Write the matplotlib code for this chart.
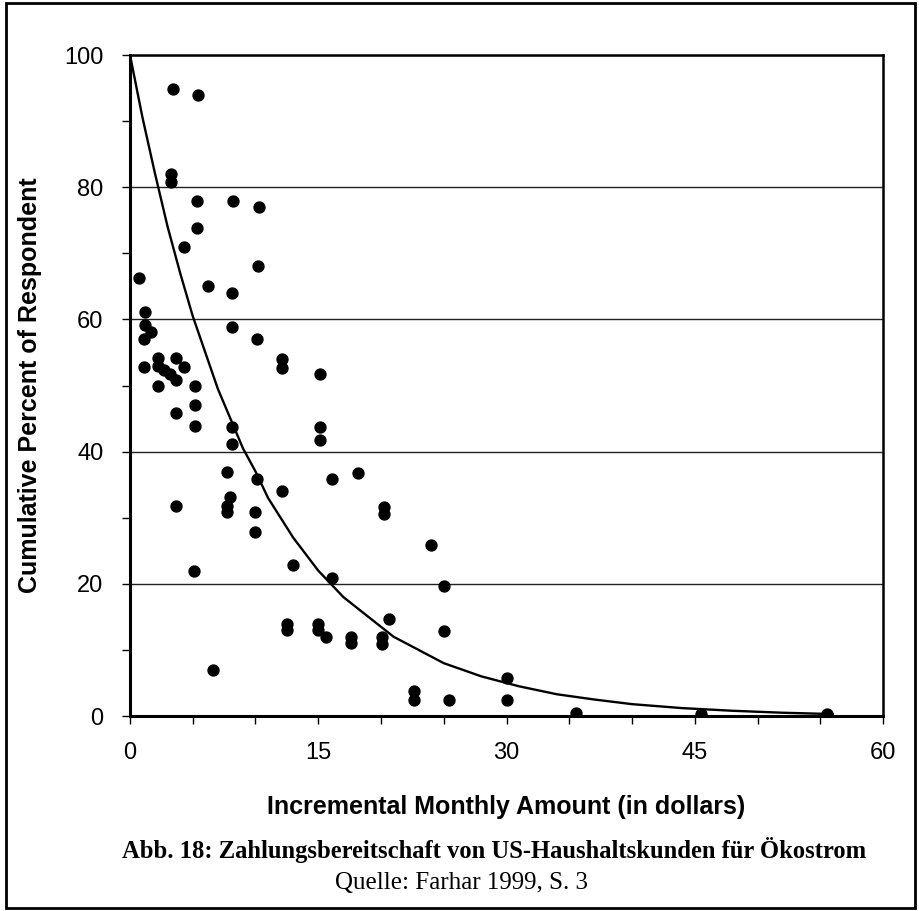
import matplotlib.pyplot as plt
from matplotlib.patches import Rectangle
from matplotlib.ticker import MultipleLocator

# survey responses (dollars per month, cumulative percent)
amount = [3.4, 5.4, 3.3, 3.3, 5.3, 8.2, 10.3, 5.3, 4.3, 10.2,
          0.7, 6.2, 8.1, 1.2, 1.2, 1.7, 1.1, 8.1, 10.1, 12.1,
          12.1, 15.1, 1.1, 2.2, 2.2, 2.7, 3.2, 3.7, 4.3, 3.7,
          2.2, 5.2, 5.2, 3.7, 5.2, 8.1, 8.1, 15.1, 15.1, 7.7,
          10.1, 16.1, 18.2, 12.1, 3.7, 8.0, 7.7, 7.7, 10.0, 10.0,
          5.1, 13.0, 16.1, 12.5, 12.5, 15.0, 15.0, 15.6, 17.6, 17.6,
          6.6, 20.2, 20.2, 24.0, 25.0, 20.6, 20.1, 20.1, 25.0, 22.6,
          22.6, 25.4, 30.0, 30.0, 35.5, 45.5, 55.5]
percent = [94.8, 94.0, 82.0, 80.8, 77.9, 77.9, 77.0, 73.9, 71.0, 68.1,
           66.2, 65.0, 64.0, 61.1, 59.1, 58.1, 57.1, 58.8, 57.0, 54.0,
           52.7, 51.8, 52.8, 54.2, 53.0, 52.3, 51.8, 54.2, 52.8, 50.9,
           50.0, 50.0, 47.1, 45.8, 43.9, 43.8, 41.1, 43.8, 41.8, 36.9,
           35.9, 35.9, 36.7, 34.0, 31.8, 33.2, 31.8, 30.8, 30.8, 27.9,
           22.0, 22.8, 20.9, 14.0, 13.0, 13.9, 13.0, 12.0, 11.9, 11.0,
           6.9, 31.7, 30.6, 25.9, 19.7, 14.7, 11.9, 10.9, 12.8, 3.8,
           2.5, 2.4, 5.7, 2.4, 0.4, 0.3, 0.3]

# fitted curve
curve_x = [0, 1, 2, 3, 4, 5, 6, 7, 8, 9, 10, 11, 12, 13, 14, 15, 17, 19,
           21, 23, 25, 28, 31, 34, 37, 40, 44, 48, 52, 56]
curve_y = [100, 90.5, 82, 74, 67, 60.5, 55, 49.5, 45, 40.5, 37, 33, 30,
           27, 24.5, 22, 18, 15, 12, 10, 8, 6, 4.5, 3.3, 2.5, 1.8, 1.2,
           0.8, 0.5, 0.3]

x_ticks = [0, 15, 30, 45, 60]
y_ticks = [0, 20, 40, 60, 80, 100]

plt.rcParams['font.family'] = ['Liberation Sans', 'DejaVu Sans']
serif = ['Liberation Serif', 'DejaVu Serif']

fig = plt.figure(figsize=(9.2, 9.11), dpi=100)
ax = fig.add_axes([0.1413, 0.214, 0.8185, 0.7256])

ax.plot(curve_x, curve_y, color='black', lw=1.7, zorder=3)
ax.scatter(amount, percent, s=62, color='black', zorder=4)

ax.set_xlim(0, 60)
ax.set_ylim(0, 100)
ax.set_xticks(x_ticks)
ax.set_yticks(y_ticks)
ax.xaxis.set_minor_locator(MultipleLocator(5))
ax.yaxis.set_minor_locator(MultipleLocator(10))
ax.tick_params(which='both', direction='out', length=6, width=1, labelsize=17)
ax.tick_params(axis='y', pad=13)
ax.tick_params(axis='x', pad=13)

ax.yaxis.grid(True, which='major', color='#222222', lw=1.0)
ax.set_axisbelow(True)
for side in ['left', 'bottom']:
    ax.spines[side].set_linewidth(2.2)
for side in ['top', 'right']:
    ax.spines[side].set_linewidth(1.8)

ax.set_ylabel('Cumulative Percent of Respondent', fontsize=18,
              fontweight='bold', labelpad=16)
ax.set_xlabel('Incremental Monthly Amount (in dollars)', fontsize=18,
              fontweight='bold', labelpad=22)

fig.text(0.537, 0.067, 'Abb. 18: Zahlungsbereitschaft von US-Haushaltskunden für Ökostrom',
         ha='center', va='center', fontsize=17.7, fontweight='bold', family=serif)
fig.text(0.502, 0.031, 'Quelle: Farhar 1999, S. 3', ha='center', va='center',
         fontsize=18, family=serif)

# border round the whole figure
fig.patches.append(Rectangle((0.006, 0.003), 0.989, 0.994, transform=fig.transFigure,
                             fill=False, edgecolor='black', lw=2))

fig.savefig('out.png', dpi=100, facecolor='white')
